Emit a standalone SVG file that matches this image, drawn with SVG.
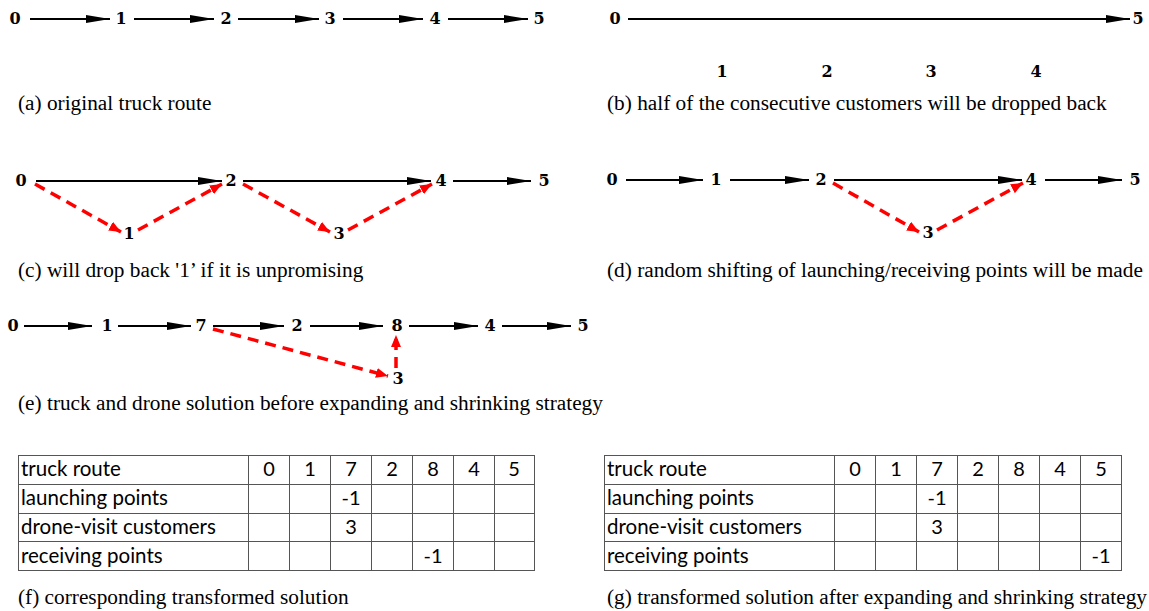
<svg xmlns="http://www.w3.org/2000/svg" width="1149" height="611" viewBox="0 0 1149 611">
<style>
.n{font-family:"DejaVu Serif",serif;font-weight:bold;font-size:16px;text-anchor:middle;fill:#000}
.cap{font-family:"Liberation Serif","Times New Roman",serif;font-size:21.3px;fill:#000}
.e{stroke:#000;stroke-width:2;fill:none;marker-end:url(#ab)}
.d{stroke:#f00;stroke-width:3.5;fill:none;stroke-dasharray:11 7;marker-end:url(#ar)}
.t{font-family:Lato,"Liberation Sans",sans-serif;font-size:20.5px;fill:#000}
.tc{font-family:Lato,"Liberation Sans",sans-serif;font-size:20px;fill:#000;text-anchor:middle}
.g{stroke:#555;stroke-width:1;fill:none}
</style>
<defs>
<marker id="ab" markerUnits="userSpaceOnUse" markerWidth="26" markerHeight="10" refX="24" refY="4.5" orient="auto"><path d="M0,0.5 L24,4.5 L0,8.5 Z" fill="#000"/></marker>
<marker id="ar" markerUnits="userSpaceOnUse" markerWidth="14" markerHeight="12" refX="12" refY="5" orient="auto"><path d="M0,0 L12,5 L0,10 Z" fill="#f00"/></marker>
</defs>
<rect width="1149" height="611" fill="#fff"/>

<g id="connectors">
<!-- (a) -->
<line class="e" x1="30" y1="19" x2="110" y2="19"/>
<line class="e" x1="134" y1="19" x2="214" y2="19"/>
<line class="e" x1="238" y1="19" x2="319" y2="19"/>
<line class="e" x1="343" y1="19" x2="423" y2="19"/>
<line class="e" x1="448" y1="19" x2="528" y2="19"/>
<!-- (b) -->
<line class="e" x1="628" y1="19" x2="1130" y2="19"/>
<!-- (c) -->
<line class="e" x1="36" y1="181" x2="222" y2="181"/>
<line class="e" x1="243" y1="181" x2="431" y2="181"/>
<line class="e" x1="453" y1="181" x2="531" y2="181"/>
<line class="d" x1="35" y1="184" x2="121" y2="232"/>
<line class="d" x1="138" y1="230" x2="222" y2="184"/>
<line class="d" x1="243" y1="184" x2="330" y2="232"/>
<line class="d" x1="348" y1="230" x2="432" y2="184"/>
<!-- (d) -->
<line class="e" x1="626" y1="180" x2="703" y2="180"/>
<line class="e" x1="730" y1="180" x2="809" y2="180"/>
<line class="e" x1="834" y1="180" x2="1022" y2="180"/>
<line class="e" x1="1045" y1="180" x2="1122" y2="180"/>
<line class="d" x1="833" y1="183" x2="919" y2="232"/>
<line class="d" x1="937" y1="230" x2="1023" y2="183"/>
<!-- (e) -->
<line class="e" x1="24" y1="326" x2="92" y2="326"/>
<line class="e" x1="118" y1="326" x2="191" y2="326"/>
<line class="e" x1="213" y1="326" x2="284" y2="326"/>
<line class="e" x1="310" y1="326" x2="383" y2="326"/>
<line class="e" x1="409" y1="326" x2="478" y2="326"/>
<line class="e" x1="502" y1="326" x2="571" y2="326"/>
<line class="d" x1="213" y1="329" x2="388" y2="376"/>
<line class="d" x1="396" y1="368" x2="396" y2="335"/>
</g>

<g id="panel-a">
<text class="n" x="15" y="24">0</text>
<text class="n" x="121" y="24">1</text>
<text class="n" x="226" y="24">2</text>
<text class="n" x="330" y="24">3</text>
<text class="n" x="435" y="24">4</text>
<text class="n" x="539" y="24">5</text>
<text class="cap" x="18" y="110">(a) original truck route</text>
</g>

<g id="panel-b">
<text class="n" x="615" y="24">0</text>
<text class="n" x="1138" y="24">5</text>
<text class="n" x="722" y="77">1</text>
<text class="n" x="827" y="77">2</text>
<text class="n" x="931" y="77">3</text>
<text class="n" x="1036" y="77">4</text>
<text class="cap" x="607" y="110">(b) half of the consecutive customers will be dropped back</text>
</g>

<g id="panel-c">
<text class="n" x="21" y="186">0</text>
<text class="n" x="231" y="186">2</text>
<text class="n" x="441" y="186">4</text>
<text class="n" x="544" y="186">5</text>
<text class="n" x="129" y="239">1</text>
<text class="n" x="339" y="239">3</text>
<text class="cap" x="18" y="277">(c) will drop back '1’ if it is unpromising</text>
</g>

<g id="panel-d">
<text class="n" x="612" y="185">0</text>
<text class="n" x="716" y="185">1</text>
<text class="n" x="821" y="185">2</text>
<text class="n" x="1031" y="185">4</text>
<text class="n" x="1135" y="185">5</text>
<text class="n" x="928" y="238">3</text>
<text class="cap" x="607" y="277">(d) random shifting of launching/receiving points will be made</text>
</g>

<g id="panel-e">
<text class="n" x="13" y="331">0</text>
<text class="n" x="107" y="331">1</text>
<text class="n" x="201" y="331">7</text>
<text class="n" x="297" y="331">2</text>
<text class="n" x="397" y="331">8</text>
<text class="n" x="490" y="331">4</text>
<text class="n" x="583" y="331">5</text>
<text class="n" x="398" y="384">3</text>
<text class="cap" x="18" y="410">(e) truck and drone solution before expanding and shrinking strategy</text>
</g>

<g id="table-f">
<rect class="g" x="18.5" y="455.5" width="516" height="115"/>
<path class="g" d="M18.5,484.5H534.5M18.5,513.5H534.5M18.5,541.5H534.5M248.5,455.5V570.5M289.5,455.5V570.5M330.5,455.5V570.5M371.5,455.5V570.5M412.5,455.5V570.5M453.5,455.5V570.5M494.5,455.5V570.5"/>
<text class="t" x="21" y="476">truck route</text>
<text class="t" x="21" y="505">launching points</text>
<text class="t" x="21" y="534">drone-visit customers</text>
<text class="t" x="21" y="563">receiving points</text>
<text class="tc" x="269" y="476">0</text>
<text class="tc" x="310" y="476">1</text>
<text class="tc" x="351" y="476">7</text>
<text class="tc" x="392" y="476">2</text>
<text class="tc" x="433" y="476">8</text>
<text class="tc" x="474" y="476">4</text>
<text class="tc" x="514" y="476">5</text>
<text class="tc" x="351" y="505">-1</text>
<text class="tc" x="351" y="534">3</text>
<text class="tc" x="433" y="563">-1</text>
<text class="cap" x="18" y="604">(f) corresponding transformed solution</text>
</g>

<g id="table-g">
<rect class="g" x="604.5" y="455.5" width="517" height="115"/>
<path class="g" d="M604.5,484.5H1121.5M604.5,513.5H1121.5M604.5,541.5H1121.5M834.5,455.5V570.5M875.5,455.5V570.5M916.5,455.5V570.5M957.5,455.5V570.5M998.5,455.5V570.5M1039.5,455.5V570.5M1080.5,455.5V570.5"/>
<text class="t" x="607" y="476">truck route</text>
<text class="t" x="607" y="505">launching points</text>
<text class="t" x="607" y="534">drone-visit customers</text>
<text class="t" x="607" y="563">receiving points</text>
<text class="tc" x="855" y="476">0</text>
<text class="tc" x="896" y="476">1</text>
<text class="tc" x="937" y="476">7</text>
<text class="tc" x="978" y="476">2</text>
<text class="tc" x="1019" y="476">8</text>
<text class="tc" x="1060" y="476">4</text>
<text class="tc" x="1101" y="476">5</text>
<text class="tc" x="937" y="505">-1</text>
<text class="tc" x="937" y="534">3</text>
<text class="tc" x="1101" y="563">-1</text>
<text class="cap" x="607" y="604">(g) transformed solution after expanding and shrinking strategy</text>
</g>
</svg>
